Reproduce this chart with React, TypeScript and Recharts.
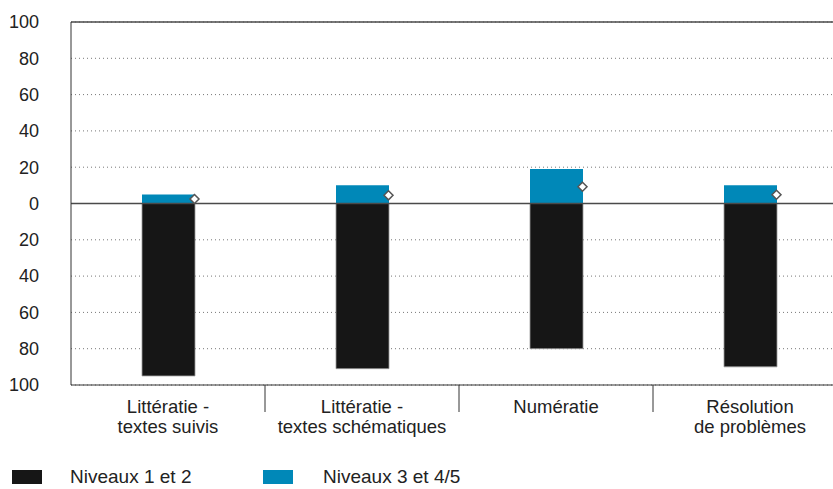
import React from "react";
import {
  ComposedChart, Bar, Line, XAxis, YAxis, CartesianGrid, ReferenceLine,
} from "recharts";

const categories = [
  "Littératie - textes suivis",
  "Littératie - textes schématiques",
  "Numératie",
  "Résolution de problèmes",
];
// two-line tick labels, same order as categories
const tickLines = [
  ["Littératie -", "textes suivis"],
  ["Littératie -", "textes schématiques"],
  ["Numératie"],
  ["Résolution", "de problèmes"],
];
const niveaux12 = [95, 91, 80, 90]; // drawn below zero
const niveaux345 = [5, 10, 19, 10];
const marker = [2.5, 4.5, 9.2, 4.8];
const yTicks = [-100, -80, -60, -40, -20, 0, 20, 40, 60, 80, 100];

const FONT = "'Liberation Sans', Arial, sans-serif";
const BLACK = "#161616";
const BLUE = "#0088b8";

const W = 850;
const H = 440;
const M = { top: 22, right: 3, left: 0, bottom: 0 };
const Y_W = 71;
const X_H = 55;
const BAR = 53;
const band = (W - M.left - M.right - Y_W) / categories.length;

const data = categories.map((c, i) => ({
  name: c,
  low: -niveaux12[i],
  high: niveaux345[i],
  mark: marker[i],
}));

function XTick(props: any) {
  const { x, y, index } = props;
  const lines = tickLines[index] || [];
  const sep = x - band / 2;
  return (
    <g>
      {index > 0 && <line x1={sep} x2={sep} y1={y} y2={y + 27} stroke="#333" strokeWidth={1} />}
      <text textAnchor="middle" fontFamily={FONT} fontSize={18.5} fill="#222">
        {lines.map((l: string, k: number) => (
          <tspan key={k} x={x} y={y + 28 + k * 20}>{l}</tspan>
        ))}
      </text>
    </g>
  );
}

function Diamond(props: any) {
  const { cx, cy, index } = props;
  if (cx == null || cy == null) return <g key={index} />;
  const x = cx + BAR / 2;
  const r = 4.5;
  return (
    <polygon
      key={index}
      points={`${x},${cy - r} ${x + r},${cy} ${x},${cy + r} ${x - r},${cy}`}
      fill="#fff"
      stroke="#555"
      strokeWidth={1.5}
    />
  );
}

const legendItems = [
  { label: "Niveaux 1 et 2", color: BLACK, left: 12, textLeft: 70 },
  { label: "Niveaux 3 et 4/5", color: BLUE, left: 263, textLeft: 323 },
];

export default function App() {
  return (
    <div style={{ position: "absolute", left: 0, top: 0, width: 833, height: 489, overflow: "hidden", background: "#fff", fontFamily: FONT }}>
      <ComposedChart width={W} height={H} data={data} margin={M} stackOffset="sign" barSize={BAR}>
        <CartesianGrid vertical={false} stroke="#777" strokeDasharray="1 3" />
        <XAxis
          dataKey="name"
          height={X_H}
          interval={0}
          tickSize={0}
          tickMargin={0}
          tickLine={false}
          axisLine={{ stroke: "#333", strokeWidth: 1 }}
          tick={<XTick />}
        />
        <YAxis
          type="number"
          width={Y_W}
          domain={[-100, 100]}
          ticks={yTicks}
          interval={0}
          tickSize={0}
          tickMargin={32}
          tickLine={false}
          axisLine={{ stroke: "#333", strokeWidth: 1 }}
          tickFormatter={(v: number) => String(Math.abs(v))}
          tick={{ fontFamily: FONT, fontSize: 18, fill: "#222" }}
        />
        <Bar dataKey="low" stackId="s" fill={BLACK} stroke="#9a9a9a" strokeWidth={0.8} isAnimationActive={false} />
        <Bar dataKey="high" stackId="s" fill={BLUE} isAnimationActive={false} />
        <ReferenceLine y={0} stroke="#4a4a4a" strokeWidth={1.5} />
        <ReferenceLine y={100} stroke="#4a4a4a" strokeWidth={1.5} />
        <Line dataKey="mark" stroke="none" dot={(p: any) => <Diamond {...p} />} activeDot={false} isAnimationActive={false} legendType="none" />
      </ComposedChart>
      {legendItems.map((it) => (
        <React.Fragment key={it.label}>
          <div style={{ position: "absolute", left: it.left, top: 470, width: 30, height: 14, background: it.color }} />
          <div style={{ position: "absolute", left: it.textLeft, top: 466, fontSize: 19, lineHeight: "22px", color: "#222", whiteSpace: "nowrap" }}>{it.label}</div>
        </React.Fragment>
      ))}
    </div>
  );
}
